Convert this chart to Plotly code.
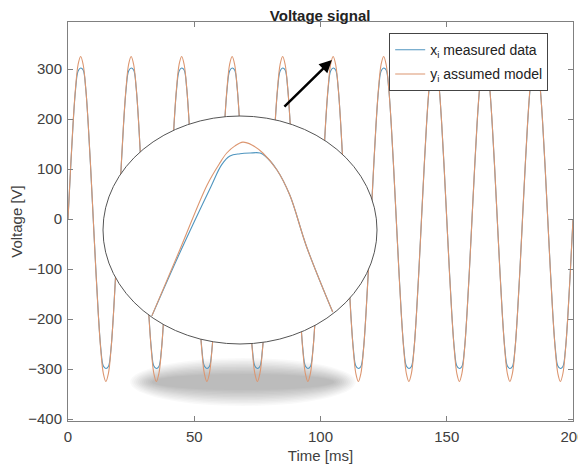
import plotly.graph_objects as go

# main signal, one cycle (1 ms steps), 10 cycles over 200 ms
cycle_ms = 20
n_cycles = 10
model_cycle = [0, 100, 191, 263, 309, 325, 309, 263, 191, 100,
               0, -100, -191, -263, -309, -325, -309, -263, -191, -100]
measured_cycle = [0, 98, 189, 259, 296, 302, 298, 262, 190, 99,
                  0, -98, -189, -259, -294, -299, -295, -261, -190, -99]

time_ms = list(range(cycle_ms * n_cycles + 1))
model_v = model_cycle * n_cycles + [0]
measured_v = measured_cycle * n_cycles + [0]

# zoomed peak shown in the round inset
inset_model_t = [3.07, 3.68, 4.28, 4.56, 4.71, 4.89, 5.06, 5.26, 5.50, 5.81, 6.09, 6.46, 7.03]
inset_model_v = [261.1, 287.1, 312.8, 321.5, 325.4, 328.2, 329.7, 328.6, 325.4, 318.7, 308.8, 288.3, 262.6]
inset_meas_t = [3.07, 3.71, 4.36, 4.60, 4.78, 5.00, 5.22, 5.44, 5.55, 5.81, 6.09, 6.46, 7.03]
inset_meas_v = [261.1, 287.1, 312.0, 320.8, 324.2, 325.1, 325.4, 325.4, 324.2, 318.7, 308.8, 288.3, 262.6]

blue = '#4f95bf'
orange = '#dc9670'
font = 'Liberation Sans, Arial, sans-serif'

fig = go.Figure()
fig.add_trace(go.Scatter(x=time_ms, y=measured_v, mode='lines', line_shape='spline',
                         line=dict(color=blue, width=1.1), legendgroup='a',
                         name='x<sub>i</sub> measured data'))
fig.add_trace(go.Scatter(x=time_ms, y=model_v, mode='lines', line_shape='spline',
                         line=dict(color=orange, width=1.1), legendgroup='b',
                         name='y<sub>i</sub> assumed model'))

fig.add_trace(go.Scatter(x=inset_meas_t, y=inset_meas_v, mode='lines', line_shape='spline',
                         line=dict(color=blue, width=1.1), showlegend=False,
                         xaxis='x2', yaxis='y2'))
fig.add_trace(go.Scatter(x=inset_model_t, y=inset_model_v, mode='lines', line_shape='spline',
                         line=dict(color=orange, width=1.1), showlegend=False,
                         xaxis='x2', yaxis='y2'))

# soft shadow under the inset: stacked faint ellipses
shadow = []
n_layers = 12
for k in range(n_layers):
    f = k / (n_layers - 1)
    hw = 44.7 - f * 8.5
    hh = 48 - f * 32
    shadow.append(dict(type='circle', xref='x', yref='y', layer='below',
                       x0=69.3 - hw, x1=69.3 + hw, y0=-326 - hh, y1=-326 + hh,
                       fillcolor='rgba(0,0,0,0.025)', line=dict(width=0)))

# the round magnifier
lens = dict(type='circle', xref='x2', yref='y2', layer='below',
            x0=2.0, x1=8.0, y0=250, y1=340,
            fillcolor='white', line=dict(color='#555555', width=1))

# the page puts the figure 8 px in from the top-left corner
fig.update_layout(
    width=578, height=466,
    margin=dict(l=60, r=13, t=14, b=53, autoexpand=False),
    paper_bgcolor='white', plot_bgcolor='rgba(0,0,0,0)',
    font=dict(family=font, size=15, color='#404040'),
    title=dict(text='<b>Voltage signal</b>', x=0.54, xanchor='center', y=0.983, yanchor='middle',
               font=dict(family=font, size=15, color='#222222')),
    xaxis=dict(range=[0, 200], tickvals=[0, 50, 100, 150, 200], ticks='inside', ticklen=5,
               tickcolor='#808080', showline=True, linecolor='#808080', linewidth=1, mirror='ticks',
               showgrid=False, zeroline=False, automargin=False, ticklabelstandoff=2,
               ticklabeloverflow='allow',
               title=dict(text='Time [ms]', standoff=6, font=dict(size=15, color='#404040'))),
    yaxis=dict(range=[-404, 394], tickvals=[-400, -300, -200, -100, 0, 100, 200, 300],
               ticks='inside', ticklen=5, tickcolor='#808080', showline=True, linecolor='#808080',
               linewidth=1, mirror='ticks', showgrid=False, zeroline=False, automargin=False,
               ticklabelstandoff=2, ticklabeloverflow='allow',
               title=dict(text='Voltage [V]', standoff=6, font=dict(size=15, color='#404040'))),
    xaxis2=dict(domain=[0.0614, 0.6198], range=[1.9125, 8.0875], anchor='y2', visible=False),
    yaxis2=dict(domain=[0.183, 0.7744], range=[248.42, 341.58], anchor='x2', visible=False),
    legend=dict(x=0.636, y=0.972, xanchor='left', yanchor='top', bgcolor='white',
                bordercolor='#444444', borderwidth=1, font=dict(size=14, color='#222222'),
                tracegroupgap=3),
    shapes=shadow + [lens],
    annotations=[dict(x=104.5, y=318, ax=85.1, ay=222, xref='x', yref='y', axref='x', ayref='y',
                      text='', showarrow=True, arrowhead=2, arrowsize=1, arrowwidth=2.5,
                      arrowcolor='black')],
)

fig.write_html("out.html")
